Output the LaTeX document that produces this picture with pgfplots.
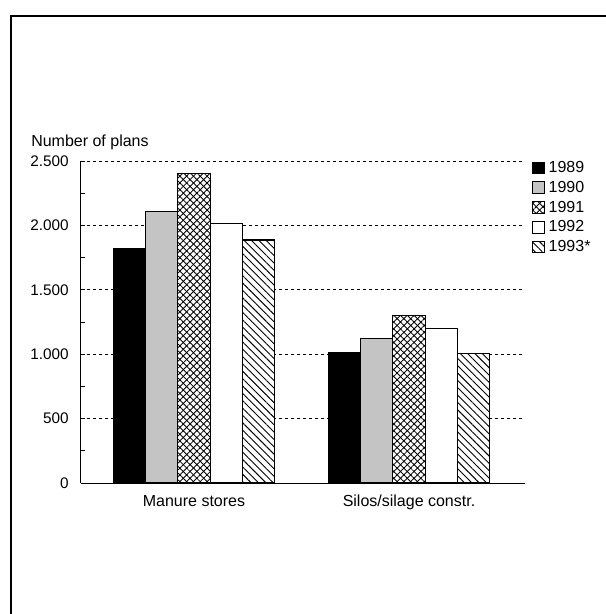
\documentclass[border=0pt]{standalone}
\usepackage{pgfplots}
\pgfplotsset{compat=1.18}
\usepackage{fontspec}
\setmainfont{Liberation Sans}
\usetikzlibrary{patterns,patterns.meta}
\pgfdeclarepatternformonly{finedots}{\pgfqpoint{-0.6pt}{-0.6pt}}{\pgfqpoint{0.6pt}{0.6pt}}{\pgfqpoint{1.5pt}{1.5pt}}{\pgfpathcircle{\pgfqpoint{0pt}{0pt}}{0.54pt}\pgfusepath{fill}}
\begin{document}
\begin{tikzpicture}[x=1pt,y=1pt,font=\fontsize{12}{14.4}\selectfont]
\path[use as bounding box] (-60.75,-98.25) rectangle (393.75,362.25);
\draw[line width=1.1pt] (-52.5,-98.25) -- (-52.5,350.25) -- (393.75,350.25);
\begin{axis}[
  at={(0,0)}, anchor=south west,
  scale only axis, width=333pt, height=241.5pt,
  xmin=-0.5256, xmax=1.5395, ymin=0, ymax=2500,
  ybar, bar width=0.15,
  axis x line=bottom, axis y line=left,
  axis line style={line width=0.75pt, -},
  xtick={0,1}, xticklabels={Manure stores, Silos/silage constr.},
  ytick={0,500,1000,1500,2000,2500},
  yticklabels={0,500,1.000,1.500,2.000,2.500},
  minor y tick num=1,
  tick align=inside, major tick length=3pt, minor tick length=3pt,
  tick style={line width=0.6pt, black},
  ymajorgrids,
  grid style={line width=0.6pt, black, dash pattern=on 2.5pt off 2pt},
  xticklabel style={inner sep=0pt, anchor=north, yshift=-9pt, font=\fontsize{12}{14.4}\selectfont},
  yticklabel style={inner sep=0pt, anchor=east, xshift=-9pt, font=\fontsize{11.5}{13.8}\selectfont},
  ylabel={Number of plans},
  ylabel style={at={(axis description cs:0,1)}, rotate=-90, anchor=base west, inner sep=0pt, xshift=-37.5pt, yshift=10.7pt},
  legend style={at={(1,1)}, anchor=north west, xshift=5.25pt, draw=none, fill=none, inner sep=0pt,
    row sep=5pt, nodes={inner sep=0pt}, font=\fontsize{12}{14.4}\selectfont,
    /tikz/every odd column/.append style={column sep=3pt}},
  legend cell align=left,
  every axis plot post/.append style={line width=0.9pt,
    legend image code/.code={\draw[##1, line width=0.7pt] (0pt,-4.3pt) rectangle (8.6pt,4.3pt);}},
]
\addplot[draw=black, fill=black, bar shift=-0.3] coordinates {(0,1820) (1,1010)};
\addplot[draw=black, fill=white, postaction={pattern=finedots}, bar shift=-0.15] coordinates {(0,2105) (1,1120)};
\addplot[draw=black, fill=white, postaction={pattern={Lines[angle=45,distance=3.6pt,line width=0.65pt]}}, postaction={pattern={Lines[angle=-45,distance=3.6pt,line width=0.65pt]}}, bar shift=0] coordinates {(0,2400) (1,1300)};
\addplot[draw=black, fill=white, bar shift=0.15] coordinates {(0,2013) (1,1200)};
\addplot[draw=black, fill=white, postaction={pattern={Lines[angle=-45,distance=3.9pt,line width=0.7pt]}}, bar shift=0.3] coordinates {(0,1887) (1,1007)};
\legend{1989,1990,1991,1992,1993*}
\end{axis}
\end{tikzpicture}
\end{document}
